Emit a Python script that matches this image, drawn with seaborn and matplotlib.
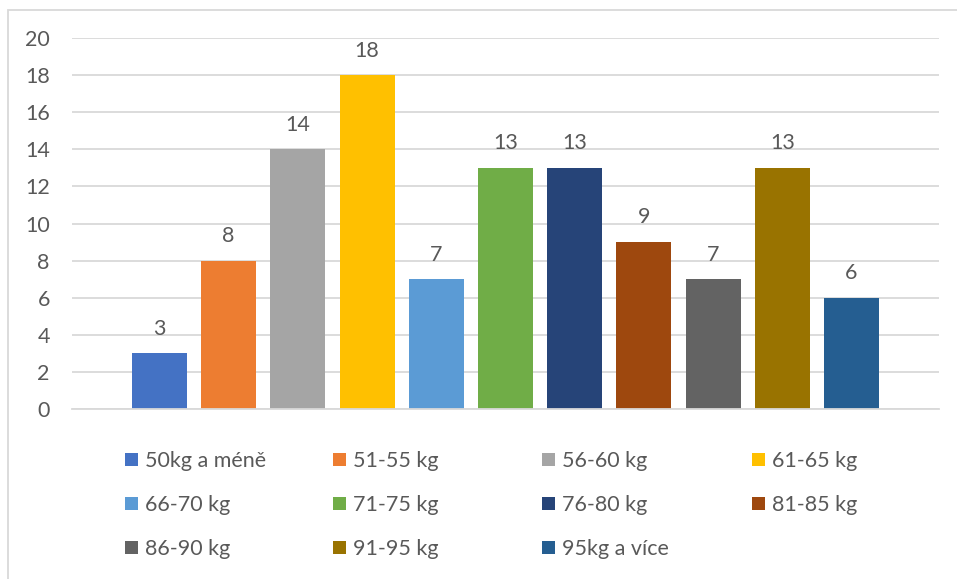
import matplotlib
matplotlib.use("Agg")
import matplotlib.pyplot as plt
from matplotlib.patches import Patch, Rectangle
import seaborn as sns
import pandas as pd

categories = ["50kg a méně", "51-55 kg", "56-60 kg", "61-65 kg", "66-70 kg",
              "71-75 kg", "76-80 kg", "81-85 kg", "86-90 kg", "91-95 kg",
              "95kg a více"]
counts = [3, 8, 14, 18, 7, 13, 13, 9, 7, 13, 6]
colors = ["#4472C4", "#ED7D31", "#A5A5A5", "#FFC000", "#5B9BD5", "#70AD47",
          "#264478", "#9E480E", "#636363", "#997300", "#255E91"]
y_ticks = [0, 2, 4, 6, 8, 10, 12, 14, 16, 18, 20]

sns.set_theme(style="white")
plt.rcParams["font.family"] = ["Lato", "DejaVu Sans"]
text_color = "#595959"
grid_color = "#D9D9D9"

W, H = 957, 579
fig = plt.figure(figsize=(W / 100, H / 100), dpi=100)
ax = fig.add_axes([72 / W, 1 - 409 / H, (939 - 72) / W, (409 - 38) / H])

df = pd.DataFrame({"kategorie": categories, "pocet": counts})
sns.barplot(data=df, x="kategorie", y="pocet", hue="kategorie",
            palette=colors, order=categories, hue_order=categories,
            width=0.795, dodge=False, legend=False, ax=ax, saturation=1,
            linewidth=0, edgecolor="none")

for cont in ax.containers:
    ax.bar_label(cont, fmt="%d", padding=10.5, fontsize=15.5, color=text_color)

ax.set_xlim(-1.264, 11.264)
ax.set_ylim(0, 20)
ax.set_yticks(y_ticks)
ax.set_xticks([])
ax.set_xlabel("")
ax.set_ylabel("")
ax.tick_params(axis="y", length=0, pad=16, labelsize=15.5, labelcolor=text_color)
ax.yaxis.grid(True, color=grid_color, linewidth=1.3)
ax.set_axisbelow(True)
for side in ["top", "right", "left"]:
    ax.spines[side].set_visible(False)
ax.spines["bottom"].set_color(grid_color)
ax.spines["bottom"].set_linewidth(1.3)

# Legend: four columns laid out row by row
col_x = [125, 333, 542, 752]
first_row_top = 451
handles = [Patch(facecolor=c, edgecolor="none") for c in colors]
for ci, x0 in enumerate(col_x):
    idx = list(range(ci, len(categories), 4))
    leg = fig.legend([handles[i] for i in idx], [categories[i] for i in idx],
                     loc="upper left",
                     bbox_to_anchor=(x0 / W, 1 - first_row_top / H),
                     frameon=False, fontsize=15.5, labelcolor=text_color,
                     handlelength=0.6, handleheight=0.6, handletextpad=0.35,
                     labelspacing=1.12, borderpad=0, borderaxespad=0)

# Chart frame (top and left edges visible)
fig.patches.append(Rectangle((8 / W, -0.1), 1.2, 1 - 10 / H + 0.1,
                             transform=fig.transFigure, fill=False,
                             edgecolor=grid_color, linewidth=1.3))

fig.savefig("out.png", dpi=100)
